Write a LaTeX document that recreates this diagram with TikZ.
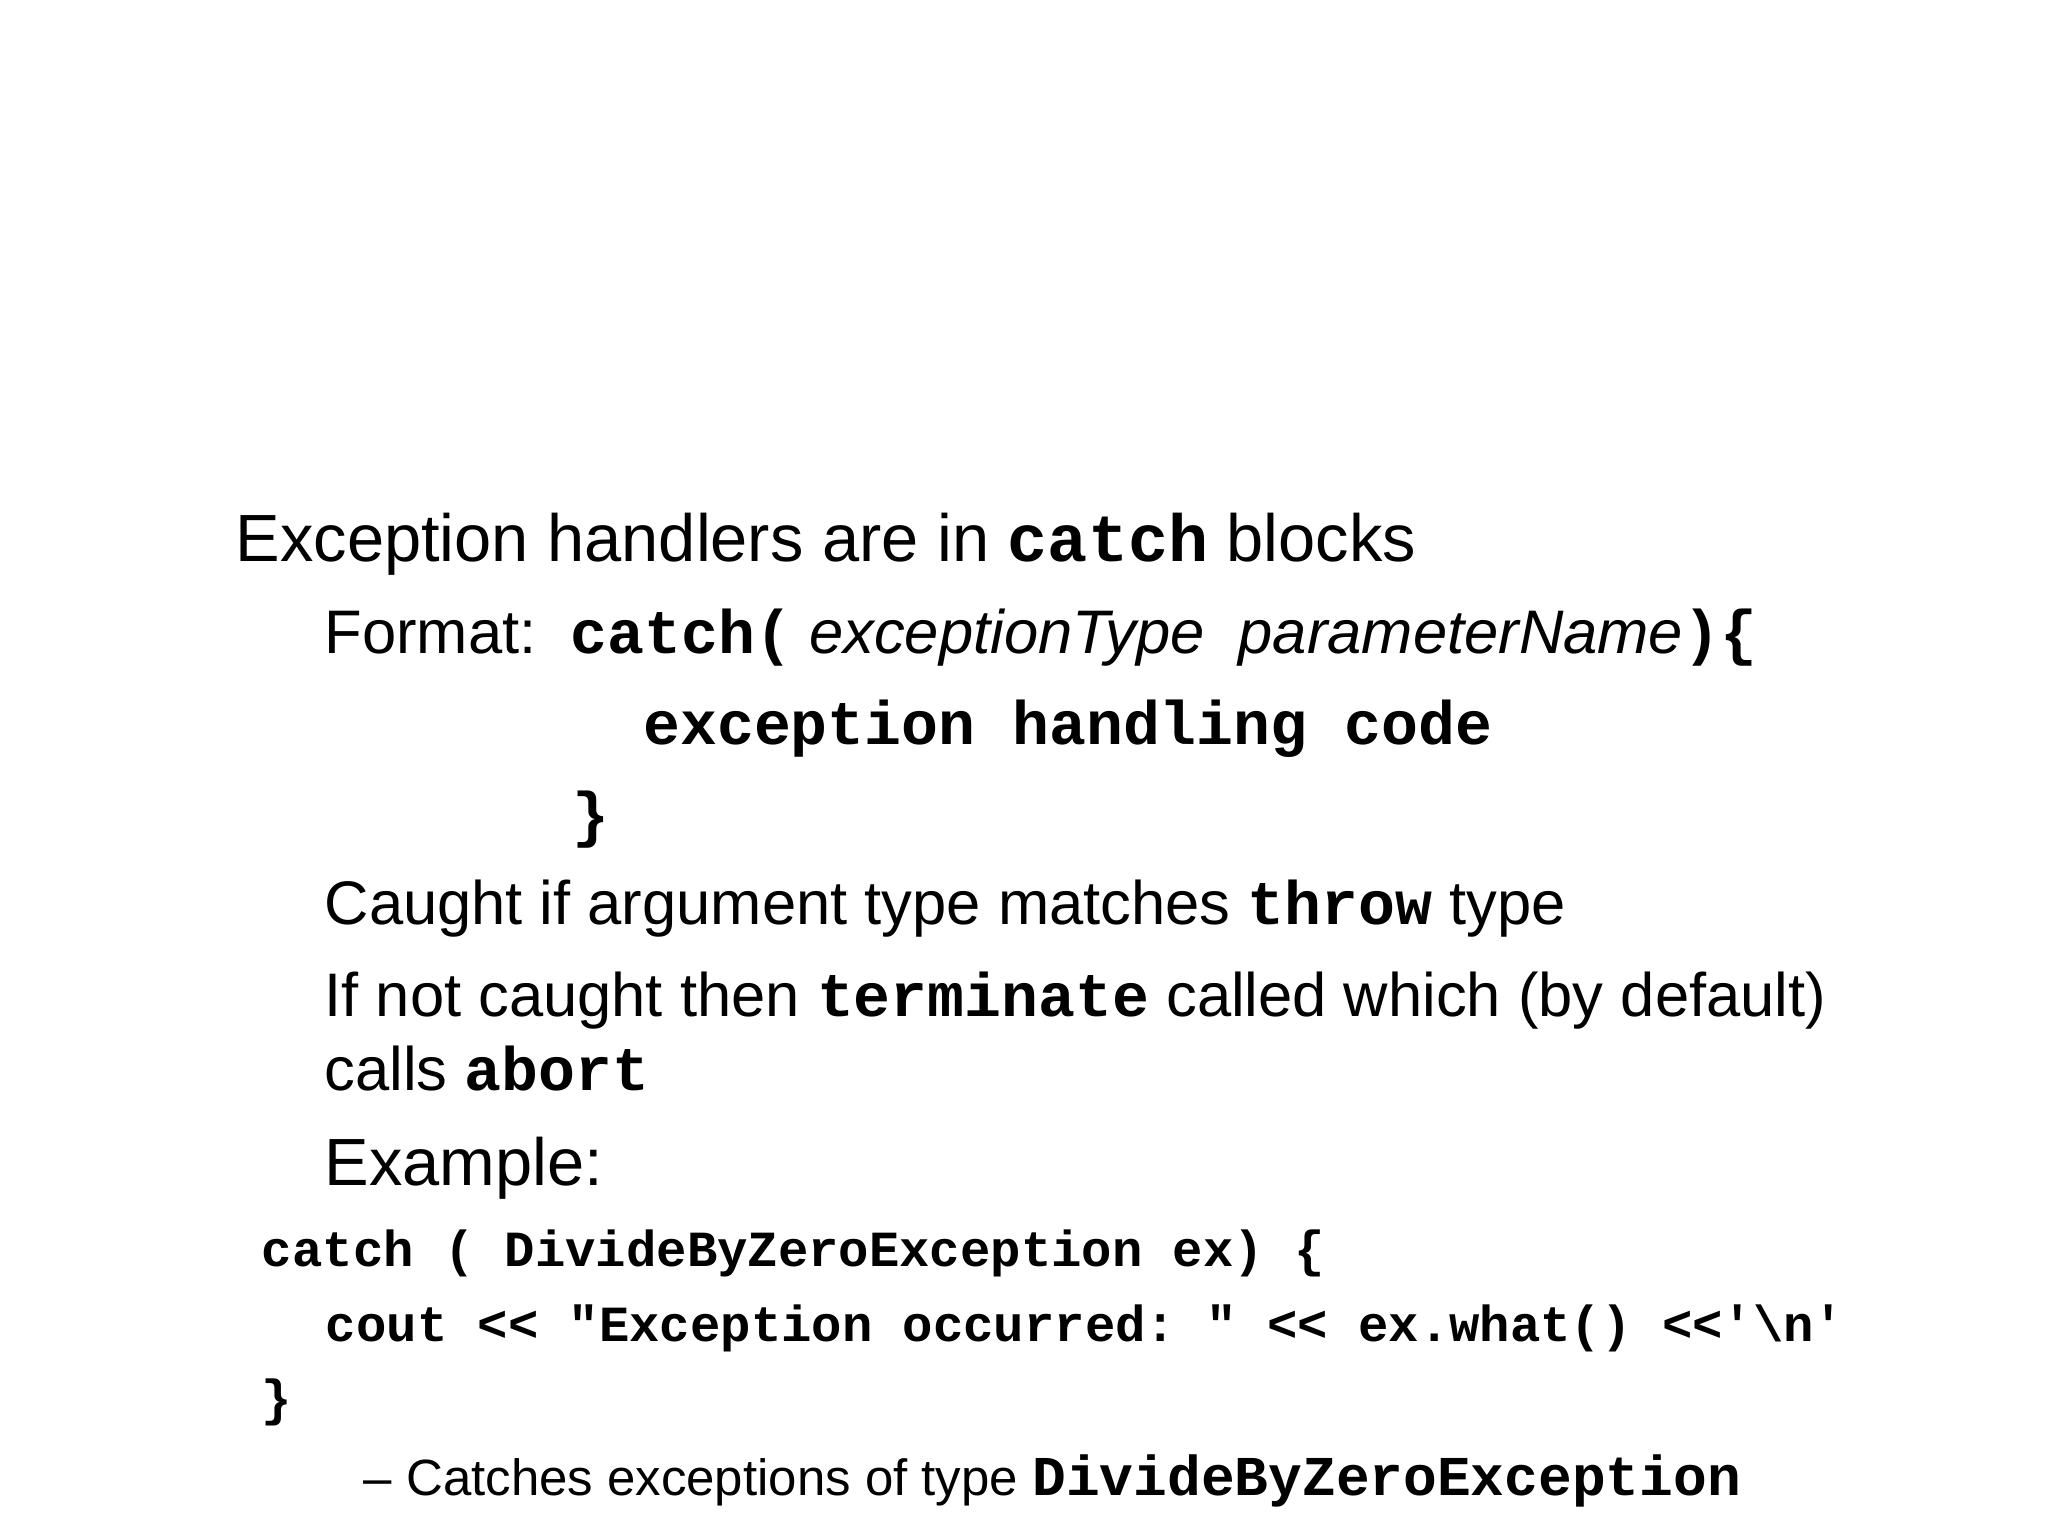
\documentclass[tikz,border=0pt]{standalone}
\usepackage{fontspec}
\setmainfont{Liberation Sans}
\setmonofont{Liberation Mono}
\begin{document}
\begin{tikzpicture}[x=0.01306cm,y=-0.01306cm,
  txt/.style={anchor=base west,inner sep=0pt,font=\fontsize{19}{22}\selectfont},
  txtb/.style={anchor=base west,inner sep=0pt,font=\fontsize{17.5}{21}\selectfont},
  code/.style={anchor=base west,inner sep=0pt,font=\fontsize{14.4}{17}\selectfont\ttfamily\bfseries},
  sub/.style={anchor=base west,inner sep=0pt,font=\fontsize{14.5}{17}\selectfont}]
\useasboundingbox[fill=white] (0,0) rectangle (1568,1176);
\node[txt] (l1) at (180,430) {Exception handlers are in \texttt{\textbf{catch}} blocks};
\node[txtb] (l2) at (248,500) {Format:\ \ \texttt{\textbf{catch(}} \textit{exceptionType\ \ parameterName}\texttt{\textbf{)\{}}};
\node[txtb] (l3) at (492,570) {\texttt{\textbf{exception handling code}}};
\node[txtb] (l4) at (438,640) {\texttt{\textbf{\}}}};
\node[txtb] (l5) at (248,708) {Caught if argument type matches \texttt{\textbf{throw}} type};
\node[txtb] (l6) at (248,778) {If not caught then \texttt{\textbf{terminate}} called which (by default)};
\node[txtb] (l7) at (248,835) {calls \texttt{\textbf{abort}}};
\node[txt] (l8) at (248,908) {Example:};
\node[code] (c1) at (200,970) {catch ( DivideByZeroException ex) \{};
\node[code] (c2) at (249,1027) {cout << "Exception occurred: " << ex.what() <<'\textbackslash n'};
\node[code] (c3) at (200,1084) {\}};
\node[sub] (s1) at (278,1145) {– Catches exceptions of type {\fontsize{16}{19}\selectfont\ttfamily\bfseries DivideByZeroException}};
\end{tikzpicture}
\end{document}
